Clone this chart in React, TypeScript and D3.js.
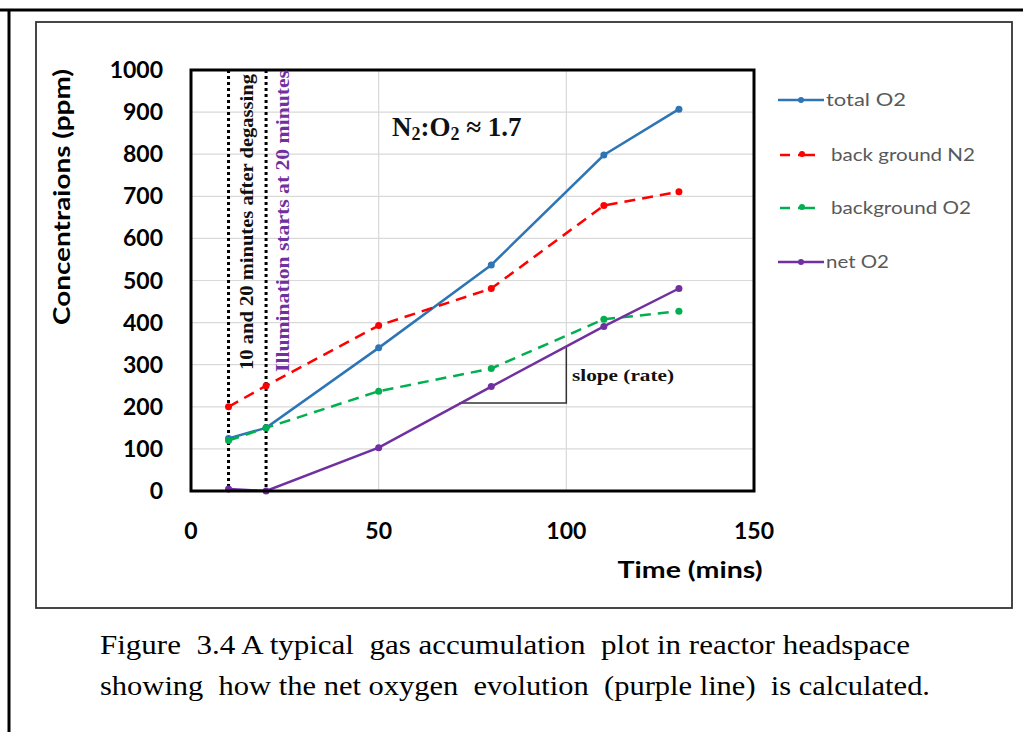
import React from "react";
import * as d3 from "d3";

const times = [10, 20, 50, 80, 110, 130];
const totalO2 = [125, 150, 340, 537, 798, 907];
const bgN2 = [200, 250, 393, 481, 678, 711];
const bgO2 = [120, 150, 237, 291, 408, 427];
const netO2 = [5, 0, 103, 248, 391, 481];
const xTicks = [0, 50, 100, 150];
const yTicks = [0, 100, 200, 300, 400, 500, 600, 700, 800, 900, 1000];
const seriesNames = ["total O2", "back ground N2", "background O2", "net O2"];
const seriesColors = ["#2E75B6", "#FF0000", "#00B050", "#7030A0"];
const seriesDashed = [false, true, true, false];
const seriesData = [totalO2, bgN2, bgO2, netO2];
const legendWidths = [80, 144, 140, 63];
const slopeX = [71.5, 100];
const slopeY = [209, 342];
const markerTimes = [10, 20];

export default function App() {
  const W = 1023, H = 732;
  const L = 191, R = 754, T = 70, B = 491;
  const x = d3.scaleLinear().domain([0, 150]).range([L, R]);
  const y = d3.scaleLinear().domain([0, 1000]).range([B, T]);
  const line = d3.line<[number, number]>().x(d => x(d[0])).y(d => y(d[1]));
  const sans = "Lato, Open Sans, sans-serif";
  const serif = "Liberation Serif, Times New Roman, Tinos, serif";
  const legendY = [100, 155, 208, 262];

  return (
    <svg width={W} height={H} style={{ position: "absolute", left: 0, top: 0, background: "#fff" }}>
      {/* outer frame */}
      <line x1={0} y1={10} x2={W} y2={10} stroke="#000" strokeWidth={3} />
      <line x1={9} y1={9} x2={9} y2={H} stroke="#000" strokeWidth={3} />
      <rect x={36} y={22} width={976} height={586} fill="none" stroke="#333" strokeWidth={1.8} />

      {/* grid */}
      {yTicks.map(t => (
        <line key={"gy" + t} x1={L} x2={R} y1={y(t)} y2={y(t)} stroke="#d9d9d9" strokeWidth={1.2} />
      ))}
      {xTicks.map(t => (
        <line key={"gx" + t} x1={x(t)} x2={x(t)} y1={T} y2={B} stroke="#d9d9d9" strokeWidth={1.2} />
      ))}

      {/* dotted markers */}
      {markerTimes.map(t => (
        <line key={"m" + t} x1={x(t)} x2={x(t)} y1={T} y2={B} stroke="#000" strokeWidth={3} strokeDasharray="3,3" />
      ))}

      {/* slope triangle */}
      <path
        d={`M${x(slopeX[0])},${y(slopeY[0])} L${x(slopeX[1])},${y(slopeY[0])} L${x(slopeX[1])},${y(slopeY[1])}`}
        fill="none" stroke="#333" strokeWidth={1.5}
      />
      <text x={572} y={381} fontFamily={serif} fontWeight="bold" fontSize={17} fill="#111" textLength={102} lengthAdjust="spacingAndGlyphs">slope (rate)</text>

      {/* series */}
      {seriesData.map((vals, i) => {
        const pts: [number, number][] = times.map((t, j) => [t, vals[j]]);
        return (
          <g key={"s" + i}>
            <path d={line(pts) || ""} fill="none" stroke={seriesColors[i]} strokeWidth={2.5}
              strokeDasharray={seriesDashed[i] ? "11,7" : undefined} />
            {pts.map((p, j) => (
              <circle key={j} cx={x(p[0])} cy={y(p[1])} r={3.5} fill={seriesColors[i]} />
            ))}
          </g>
        );
      })}

      {/* plot border */}
      <rect x={L} y={T} width={R - L} height={B - T} fill="none" stroke="#000" strokeWidth={3} />

      {/* vertical annotations */}
      <text transform={`translate(${x(10) + 24},222) rotate(-90)`} textAnchor="middle" fontFamily={serif}
        fontWeight="bold" fontSize={19} fill="#111" textLength={296} lengthAdjust="spacingAndGlyphs">10 and 20 minutes after degassing</text>
      <text transform={`translate(${x(20) + 23},221) rotate(-90)`} textAnchor="middle" fontFamily={serif}
        fontWeight="bold" fontSize={19} fill="#7030A0" textLength={302} lengthAdjust="spacingAndGlyphs">Illumination starts at 20 minutes</text>

      {/* ratio text */}
      <text x={392} y={136} fontFamily={serif} fontWeight="bold" fontSize={27} fill="#111">
        N<tspan fontSize={18} dy={4}>2</tspan><tspan dy={-4}>:O</tspan><tspan fontSize={18} dy={4}>2</tspan><tspan dy={-4}> ≈ 1.7</tspan>
      </text>

      {/* axes labels */}
      {yTicks.map(t => (
        <text key={"yl" + t} x={163} y={y(t) + 8} textAnchor="end" fontFamily={sans} fontWeight="bold" fontSize={23} fill="#000">{t}</text>
      ))}
      {xTicks.map(t => (
        <text key={"xl" + t} x={x(t)} y={539} textAnchor="middle" fontFamily={sans} fontWeight="bold" fontSize={23} fill="#000">{t}</text>
      ))}
      <text x={690} y={578} textAnchor="middle" fontFamily={sans} fontWeight="bold" fontSize={23} fill="#000" textLength={145} lengthAdjust="spacingAndGlyphs">Time (mins)</text>
      <text transform="translate(70,197) rotate(-90)" textAnchor="middle" fontFamily={sans} fontWeight="bold" fontSize={23} fill="#000" textLength={256} lengthAdjust="spacingAndGlyphs">Concentraions (ppm)</text>

      {/* legend */}
      {seriesNames.map((n, i) => (
        <g key={"lg" + i}>
          {seriesDashed[i] ? (
            <>
              <line x1={780} x2={790} y1={legendY[i]} y2={legendY[i]} stroke={seriesColors[i]} strokeWidth={2.5} />
              <line x1={798} x2={815} y1={legendY[i]} y2={legendY[i]} stroke={seriesColors[i]} strokeWidth={2.5} />
              <circle cx={802} cy={legendY[i] - 1} r={3} fill={seriesColors[i]} />
            </>
          ) : (
            <>
              <line x1={778} x2={824} y1={legendY[i]} y2={legendY[i]} stroke={seriesColors[i]} strokeWidth={2.5} />
              <circle cx={801} cy={legendY[i]} r={3} fill={seriesColors[i]} />
            </>
          )}
          <text x={seriesDashed[i] ? 831 : 826} y={legendY[i] + 6} fontFamily={sans} fontSize={18} fill="#595959"
            textLength={legendWidths[i]} lengthAdjust="spacingAndGlyphs">{n}</text>
        </g>
      ))}

      {/* caption */}
      <text x={100} y={654} fontFamily={serif} fontSize={27} fill="#000" style={{ whiteSpace: "pre" }} textLength={810} lengthAdjust="spacingAndGlyphs">Figure  3.4 A typical  gas accumulation  plot in reactor headspace</text>
      <text x={100} y={695} fontFamily={serif} fontSize={27} fill="#000" style={{ whiteSpace: "pre" }} textLength={830} lengthAdjust="spacingAndGlyphs">showing  how the net oxygen  evolution  (purple line)  is calculated.</text>
    </svg>
  );
}
